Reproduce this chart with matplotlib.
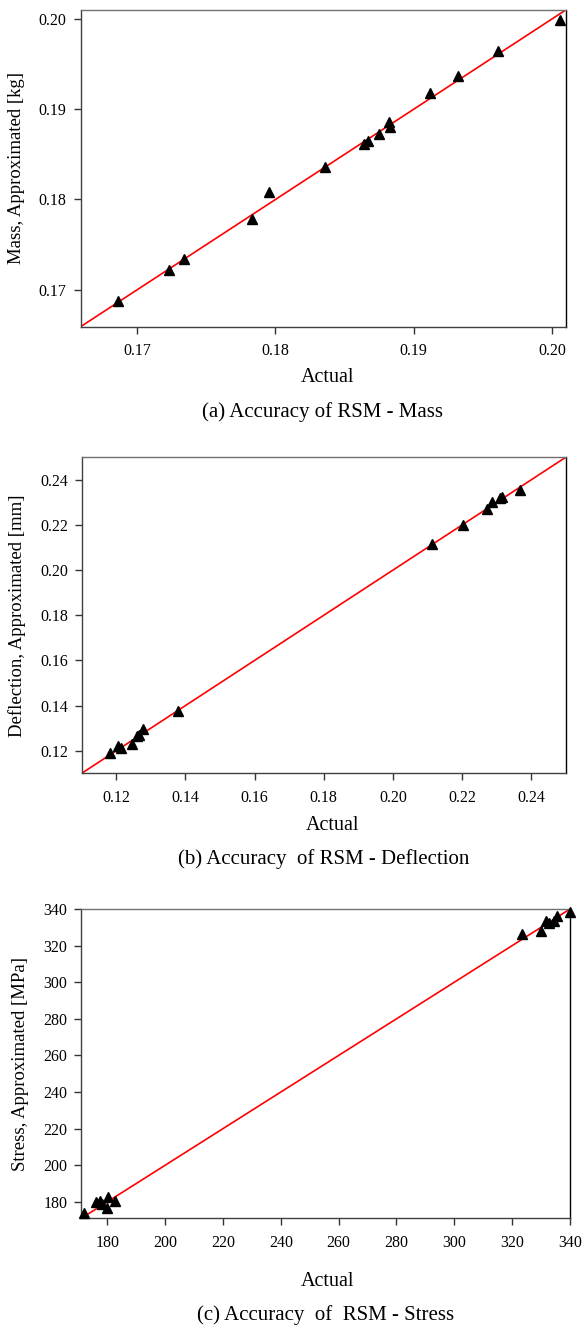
import matplotlib
matplotlib.use('Agg')
import matplotlib.pyplot as plt

plt.rcParams['font.family'] = ['Liberation Serif', 'DejaVu Serif']

# (a) mass
mass_actual = [0.1686, 0.1723, 0.1734, 0.1783, 0.1795, 0.1836, 0.1864, 0.1867,
               0.1875, 0.1882, 0.1883, 0.1912, 0.1932, 0.1961, 0.2006]
mass_approx = [0.1687, 0.1722, 0.1734, 0.1778, 0.1808, 0.1836, 0.1861, 0.1865,
               0.1873, 0.1886, 0.1880, 0.1918, 0.1937, 0.1965, 0.1999]
mass_lim = [0.1659, 0.2010]
mass_ticks = [0.17, 0.18, 0.19, 0.20]

# (b) deflection
defl_actual = [0.1181, 0.1205, 0.1214, 0.1245, 0.1260, 0.1266, 0.1277, 0.1378,
               0.2112, 0.2202, 0.2271, 0.2288, 0.2310, 0.2317, 0.2367]
defl_approx = [0.1191, 0.1220, 0.1214, 0.1228, 0.1267, 0.1270, 0.1295, 0.1378,
               0.2117, 0.2198, 0.2272, 0.2302, 0.2320, 0.2323, 0.2354]
defl_lim = [0.11, 0.25]
defl_ticks = [0.12, 0.14, 0.16, 0.18, 0.20, 0.22, 0.24]

# (c) stress
stress_actual = [172.0, 176.2, 177.6, 178.1, 180.0, 180.3, 182.6,
                 323.4, 329.8, 331.7, 332.8, 334.3, 335.4, 340.1]
stress_approx = [173.9, 180.0, 180.5, 179.0, 176.5, 182.5, 180.4,
                 326.6, 327.8, 333.3, 332.3, 333.2, 336.3, 338.4]
stress_lim = [171.0, 340.0]
stress_ticks = [180, 200, 220, 240, 260, 280, 300, 320, 340]

W, H = 587, 1327

panels = [
    dict(x=mass_actual, y=mass_approx, lim=mass_lim, ticks=mass_ticks, fmt='{:.2f}',
         ylabel='Mass, Approximated [kg]', caption='(a) Accuracy of RSM - Mass',
         box=(80.6, 565.7, 10.0, 326.7), actual=(328, 378), cap=(323, 412), ylab_x=17),
    dict(x=defl_actual, y=defl_approx, lim=defl_lim, ticks=defl_ticks, fmt='{:.2f}',
         ylabel='Deflection, Approximated [mm]', caption='(b) Accuracy  of RSM - Deflection',
         box=(81.7, 565.7, 457.3, 773.3), actual=(333, 825), cap=(324, 859), ylab_x=17),
    dict(x=stress_actual, y=stress_approx, lim=stress_lim, ticks=stress_ticks, fmt='{:d}',
         ylabel='Stress, Approximated [MPa]', caption='(c) Accuracy  of  RSM - Stress',
         box=(81.3, 570.0, 909.0, 1218.3), actual=(328, 1282), cap=(326, 1315), ylab_x=20.5),
]

fig = plt.figure(figsize=(W / 100, H / 100), dpi=100)

for p in panels:
    l, r, t, b = p['box']
    ax = fig.add_axes([l / W, 1 - b / H, (r - l) / W, (b - t) / H])
    ax.plot(p['lim'], p['lim'], color='red', lw=1.2, zorder=2)
    ax.plot(p['x'], p['y'], ls='none', marker='^', ms=7.5, color='black',
            clip_on=False, zorder=3)
    ax.set_xlim(p['lim'])
    ax.set_ylim(p['lim'])
    ax.set_xticks(p['ticks'])
    ax.set_yticks(p['ticks'])
    ax.set_xticklabels([p['fmt'].format(v) for v in p['ticks']])
    ax.set_yticklabels([p['fmt'].format(v) for v in p['ticks']])
    ax.tick_params(direction='out', length=5, width=1, labelsize=11.5,
                   colors='#333333', labelcolor='black')
    ax.tick_params(axis='x', pad=7)
    ax.tick_params(axis='y', pad=5)
    for side in ['left', 'bottom']:
        ax.spines[side].set_color('#404040')
    ax.spines['top'].set_color('#707070')
    ax.spines['right'].set_color('black')
    for s in ax.spines.values():
        s.set_linewidth(1.0)

    fig.text(p['actual'][0] / W, 1 - p['actual'][1] / H, 'Actual',
             ha='center', va='center', fontsize=14.5)
    fig.text(p['cap'][0] / W, 1 - p['cap'][1] / H, p['caption'],
             ha='center', va='center', fontsize=15)
    fig.text(p['ylab_x'] / W, 1 - ((t + b) / 2) / H, p['ylabel'],
             ha='center', va='center', rotation=90, fontsize=13.5)

fig.savefig('out.png', dpi=100)
